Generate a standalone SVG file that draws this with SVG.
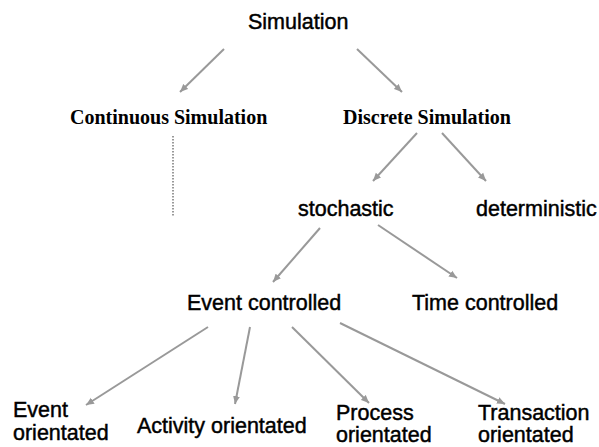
<svg xmlns="http://www.w3.org/2000/svg" width="599" height="447" viewBox="0 0 599 447">
  <defs>
    <marker id="arrow" markerUnits="userSpaceOnUse" markerWidth="9" markerHeight="8" refX="8" refY="4" orient="auto">
      <path d="M0,0.5 L8,4 L0,7.5 z" fill="#999999"/>
    </marker>
    <style>
      .sans { font-family: "Liberation Sans", Arial, sans-serif; font-size: 21.5px; fill: #000; stroke: #000; stroke-width: 0.45; }
      .serif { font-family: "Liberation Serif", "Times New Roman", serif; font-size: 20px; font-weight: bold; fill: #000; }
      .edge { stroke: #999999; stroke-width: 2; fill: none; marker-end: url(#arrow); }
      .dots { stroke: #999999; stroke-width: 2; stroke-dasharray: 1.5 1.5; fill: none; }
    </style>
  </defs>
  <rect width="599" height="447" fill="#ffffff"/>

  <g id="connectors">
    <line class="edge" x1="224" y1="49" x2="180" y2="92"/>
    <line class="edge" x1="357" y1="49" x2="402" y2="92"/>
    <line class="edge" x1="417" y1="133" x2="373" y2="181"/>
    <line class="edge" x1="442" y1="133" x2="486" y2="181"/>
    <line class="edge" x1="320" y1="228" x2="273" y2="282"/>
    <line class="edge" x1="378" y1="225" x2="457" y2="278"/>
    <line class="edge" x1="208" y1="327" x2="86" y2="405"/>
    <line class="edge" x1="250" y1="327" x2="235" y2="404"/>
    <line class="edge" x1="292" y1="327" x2="369" y2="403"/>
    <line class="edge" x1="340" y1="323" x2="505" y2="404"/>
    <line class="dots" x1="173" y1="136" x2="173" y2="217"/>
  </g>

  <g id="simulation"><text class="sans" x="248" y="29">Simulation</text></g>
  <g id="continuous"><text class="serif" x="70" y="124">Continuous Simulation</text></g>
  <g id="discrete"><text class="serif" x="343" y="124">Discrete Simulation</text></g>
  <g id="stochastic"><text class="sans" x="298" y="216">stochastic</text></g>
  <g id="deterministic"><text class="sans" x="476" y="216">deterministic</text></g>
  <g id="event-controlled"><text class="sans" x="187" y="310">Event controlled</text></g>
  <g id="time-controlled"><text class="sans" x="412" y="310">Time controlled</text></g>
  <g id="event-orientated">
    <text class="sans" x="13" y="417">Event</text>
    <text class="sans" x="13" y="440">orientated</text>
  </g>
  <g id="activity-orientated"><text class="sans" x="137" y="433">Activity orientated</text></g>
  <g id="process-orientated">
    <text class="sans" x="336" y="420">Process</text>
    <text class="sans" x="336" y="442">orientated</text>
  </g>
  <g id="transaction-orientated">
    <text class="sans" x="478" y="420">Transaction</text>
    <text class="sans" x="478" y="442">orientated</text>
  </g>
</svg>
